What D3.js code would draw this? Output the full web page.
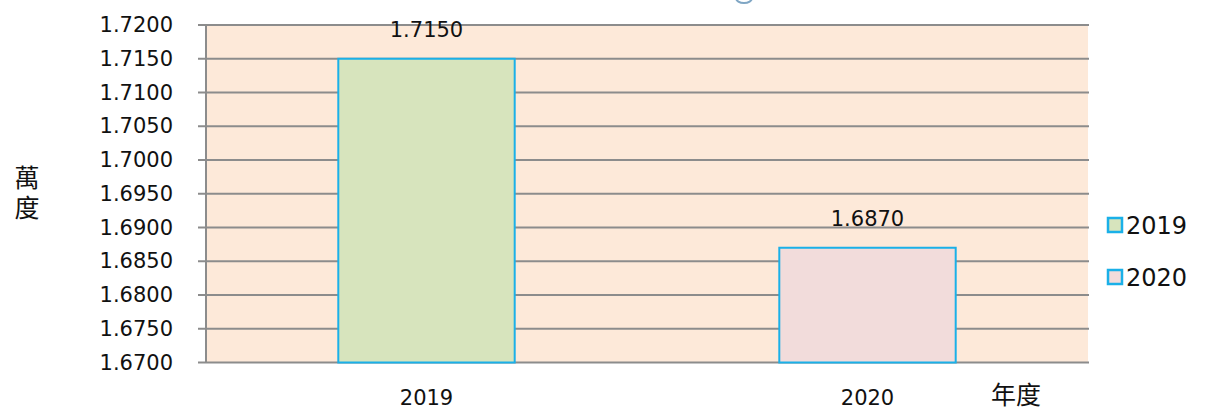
<!DOCTYPE html>
<html>
<head>
<meta charset="utf-8">
<script src="https://cdn.jsdelivr.net/npm/d3@7"></script>
<style>
  body { margin: 0; background: #fff; }
  svg { display: block; font-family: 'DejaVu Sans', Verdana, sans-serif; }
</style>
</head>
<body>
<svg id="chart"></svg>
<script>
const years = ['2019', '2020'];
const values = [1.715, 1.687];
const yTicks = [1.67, 1.675, 1.68, 1.685, 1.69, 1.695, 1.7, 1.705, 1.71, 1.715, 1.72];
const barColors = ['#d7e4bd', '#f2dcdb'];

const width = 1205, height = 411;
const plot = { left: 206, right: 1088, top: 25, bottom: 362.5 };

const svg = d3.select('#chart').attr('width', width).attr('height', height);

const x = d3.scaleBand()
  .domain(years)
  .range([plot.left, plot.right])
  .paddingInner(0.6)
  .paddingOuter(0.3);

const y = d3.scaleLinear()
  .domain([1.67, 1.72])
  .range([plot.bottom, plot.top]);

// plot background
svg.append('rect')
  .attr('x', plot.left).attr('y', plot.top)
  .attr('width', plot.right - plot.left)
  .attr('height', plot.bottom - plot.top)
  .attr('fill', '#fde9d9');

// gridlines + ticks
svg.append('g')
  .selectAll('line')
  .data(yTicks)
  .join('line')
  .attr('x1', plot.left - 8)
  .attr('x2', plot.right + 1)
  .attr('y1', d => y(d))
  .attr('y2', d => y(d))
  .attr('stroke', '#8c8c8c')
  .attr('stroke-width', 2);

// y axis line
svg.append('line')
  .attr('x1', plot.left).attr('x2', plot.left)
  .attr('y1', plot.top).attr('y2', plot.bottom)
  .attr('stroke', '#8c8c8c')
  .attr('stroke-width', 2);

// tick labels
svg.append('g')
  .selectAll('text')
  .data(yTicks)
  .join('text')
  .attr('x', 173)
  .attr('y', d => y(d))
  .attr('text-anchor', 'end')
  .attr('dominant-baseline', 'central')
  .attr('font-size', 21)
  .attr('fill', '#111')
  .text(d => d.toFixed(4));

// bars
svg.append('g')
  .selectAll('rect')
  .data(values)
  .join('rect')
  .attr('x', (d, i) => x(years[i]))
  .attr('y', d => y(d))
  .attr('width', x.bandwidth())
  .attr('height', d => y(1.67) - y(d))
  .attr('fill', (d, i) => barColors[i])
  .attr('stroke', '#1ab0e8')
  .attr('stroke-width', 2);

// value labels
svg.append('g')
  .selectAll('text')
  .data(values)
  .join('text')
  .attr('x', (d, i) => x(years[i]) + x.bandwidth() / 2)
  .attr('y', d => y(d) - 22)
  .attr('text-anchor', 'middle')
  .attr('font-size', 21)
  .attr('fill', '#111')
  .text(d => d.toFixed(4));

// x labels
svg.append('g')
  .selectAll('text')
  .data(years)
  .join('text')
  .attr('x', d => x(d) + x.bandwidth() / 2)
  .attr('y', 405)
  .attr('text-anchor', 'middle')
  .attr('font-size', 21)
  .attr('fill', '#111')
  .text(d => d);

// axis titles
svg.append('text')
  .attr('x', 1016).attr('y', 404)
  .attr('text-anchor', 'middle')
  .attr('font-size', 25)
  .attr('font-family', "'Noto Sans CJK TC', sans-serif")
  .attr('fill', '#111')
  .text('年度');

// stacked y title, vertical writing
svg.append('text')
  .attr('x', 27).attr('y', 165)
  .attr('writing-mode', 'vertical-rl')
  .attr('letter-spacing', 5)
  .attr('font-size', 25)
  .attr('font-family', "'Noto Sans CJK TC', sans-serif")
  .attr('fill', '#111')
  .text('萬度');

// legend
const legend = svg.append('g')
  .selectAll('g')
  .data(years)
  .join('g')
  .attr('transform', (d, i) => `translate(1107, ${217 + i * 52})`);

legend.append('rect')
  .attr('x', 1).attr('y', 1)
  .attr('width', 14).attr('height', 14)
  .attr('fill', (d, i) => barColors[i])
  .attr('stroke', '#1ab0e8')
  .attr('stroke-width', 2.5);

legend.append('text')
  .attr('x', 19)
  .attr('y', 17)
  .attr('font-size', 24)
  .attr('fill', '#111')
  .text(d => d);

// cropped title glyph at the top edge
svg.append('ellipse')
  .attr('cx', 744).attr('cy', -2)
  .attr('rx', 8).attr('ry', 5)
  .attr('fill', 'none')
  .attr('stroke', '#7fa6c4')
  .attr('stroke-width', 2);
</script>
</body>
</html>
